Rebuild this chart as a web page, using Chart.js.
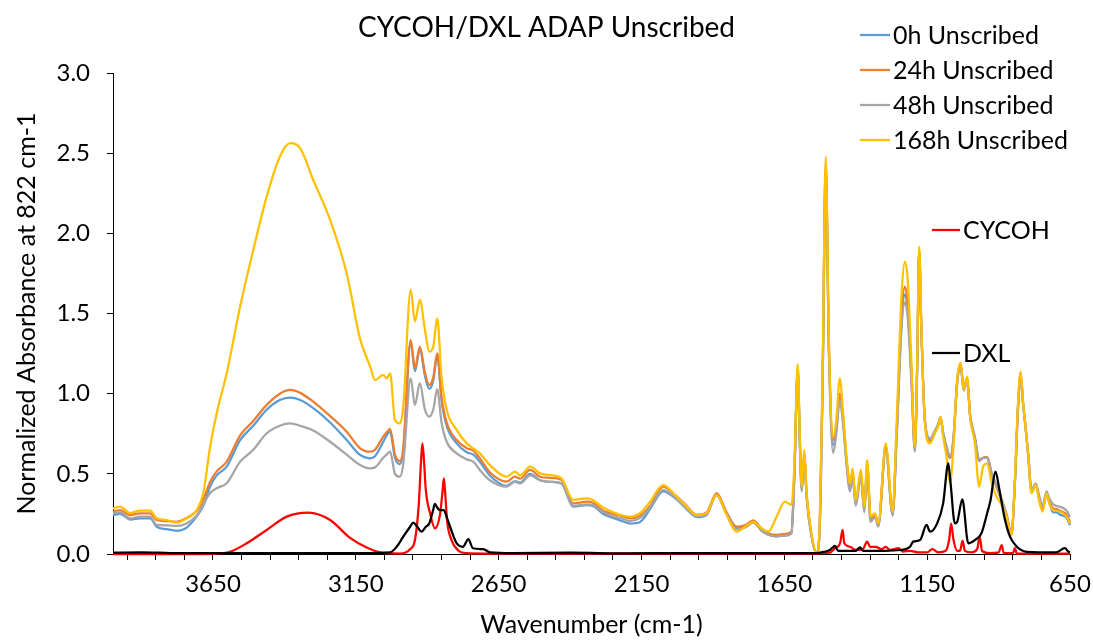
<!DOCTYPE html>
<html>
<head>
<meta charset="utf-8">
<title>CYCOH/DXL ADAP Unscribed</title>
<script src="https://cdn.jsdelivr.net/npm/chart.js@4.4.1/dist/chart.umd.min.js"></script>
<style>
  html, body { margin: 0; padding: 0; background: #ffffff; }
  #wrap { width: 1093px; height: 640px; position: relative; }
</style>
</head>
<body>
<div id="wrap"><canvas id="spectra" width="1093" height="640"></canvas></div>
<script>
// Wavenumber grid (cm-1) shared by the four ADAP samples
const sampleWn = [4000,3975,3940,3905,3870,3847,3812,3777,3742,3707,3684,3660,3637,3602,3555,3509,3462,3416,3380,3345,3299,3240,3182,3135,3100,3083,3054,3042,3030,3013,2996,2984,2958,2943,2926,2908,2893,2879,2865,2850,2832,2797,2762,2739,2716,2681,2622,2593,2575,2540,2505,2470,2430,2389,2342,2320,2284,2249,2225,2190,2155,2120,2074,2027,1992,1957,1922,1887,1852,1817,1787,1759,1730,1706,1677,1648,1625,1615,1603,1596,1589,1580,1572,1555,1537,1526,1516,1505,1494,1479,1468,1456,1444,1432,1420,1411,1400,1382,1370,1360,1348,1333,1321,1295,1271,1257,1240,1228,1218,1205,1193,1185,1178,1170,1158,1140,1123,1112,1103,1094,1082,1070,1058,1045,1033,1022,1010,1000,983,968,954,940,924,907,889,872,855,843,832,823,814,805,796,785,770,756,746,732,723,709,698,685,662,650];

// Normalized absorbance, unscribed ADAP after 0, 24, 48 and 168 h
const abs0h = [0.243,0.25,0.215,0.222,0.222,0.17,0.155,0.145,0.165,0.235,0.3,0.42,0.49,0.545,0.71,0.8,0.9,0.96,0.975,0.96,0.91,0.82,0.711,0.618,0.597,0.61,0.7,0.74,0.763,0.6,0.56,0.64,1.32,1.14,1.28,1.11,1.03,1.08,1.24,0.96,0.8,0.69,0.635,0.62,0.575,0.49,0.425,0.455,0.445,0.5,0.46,0.45,0.44,0.295,0.305,0.3,0.25,0.225,0.21,0.19,0.2,0.28,0.39,0.34,0.28,0.23,0.245,0.37,0.25,0.16,0.17,0.2,0.15,0.12,0.11,0.115,0.13,0.49,1.15,0.72,0.4,0.62,0.36,0.115,0.005,0.175,1.08,2.42,1.28,0.68,0.78,0.99,0.83,0.57,0.41,0.5,0.31,0.49,0.27,0.55,0.21,0.24,0.18,0.66,0.245,0.73,1.44,1.62,1.52,1.1,0.645,1.16,1.89,1.38,0.83,0.71,0.76,0.8,0.85,0.75,0.66,0.6,0.71,1.07,1.18,1.02,1.09,0.87,0.72,0.58,0.6,0.6,0.5,0.42,0.33,0.24,0.12,0.44,0.91,1.11,0.93,0.78,0.61,0.39,0.43,0.33,0.28,0.38,0.33,0.26,0.26,0.245,0.225,0.18];
const abs24h = [0.264,0.274,0.243,0.254,0.254,0.212,0.205,0.201,0.225,0.27,0.34,0.45,0.515,0.576,0.74,0.83,0.93,1.0,1.023,1.005,0.95,0.86,0.763,0.659,0.638,0.65,0.732,0.76,0.78,0.62,0.58,0.66,1.335,1.158,1.293,1.13,1.054,1.1,1.252,0.98,0.82,0.711,0.66,0.645,0.597,0.51,0.451,0.482,0.47,0.524,0.482,0.475,0.462,0.316,0.326,0.32,0.27,0.25,0.24,0.222,0.24,0.3,0.42,0.36,0.3,0.245,0.26,0.38,0.26,0.17,0.18,0.21,0.16,0.13,0.12,0.125,0.14,0.5,1.16,0.73,0.41,0.63,0.37,0.12,0.005,0.18,1.1,2.44,1.3,0.711,0.8,1.0,0.84,0.58,0.42,0.51,0.32,0.5,0.28,0.56,0.22,0.25,0.19,0.67,0.25,0.75,1.48,1.668,1.56,1.12,0.65,1.17,1.9,1.39,0.83,0.7,0.76,0.8,0.85,0.75,0.66,0.6,0.72,1.08,1.19,1.03,1.1,0.87,0.72,0.585,0.6,0.605,0.5,0.42,0.33,0.24,0.12,0.45,0.93,1.13,0.94,0.78,0.61,0.39,0.43,0.33,0.28,0.38,0.33,0.285,0.28,0.27,0.245,0.2];
const abs48h = [0.254,0.26,0.222,0.233,0.233,0.181,0.178,0.175,0.19,0.24,0.31,0.38,0.41,0.441,0.576,0.65,0.753,0.8,0.815,0.8,0.77,0.7,0.62,0.555,0.534,0.54,0.6,0.62,0.638,0.5,0.482,0.56,1.096,0.929,1.065,0.9,0.857,0.9,1.028,0.82,0.7,0.628,0.59,0.576,0.524,0.46,0.42,0.45,0.44,0.49,0.46,0.45,0.44,0.3,0.31,0.305,0.26,0.235,0.225,0.205,0.225,0.29,0.4,0.345,0.285,0.235,0.25,0.365,0.25,0.155,0.165,0.195,0.145,0.12,0.11,0.115,0.13,0.47,1.14,0.7,0.39,0.61,0.35,0.11,0.005,0.17,1.05,2.38,1.25,0.63,0.75,0.96,0.8,0.55,0.39,0.48,0.3,0.48,0.26,0.53,0.2,0.23,0.17,0.65,0.24,0.72,1.4,1.57,1.47,1.07,0.638,1.15,1.88,1.38,0.84,0.72,0.77,0.81,0.85,0.76,0.67,0.61,0.72,1.06,1.17,1.02,1.08,0.87,0.73,0.59,0.6,0.6,0.5,0.43,0.34,0.25,0.125,0.44,0.9,1.1,0.93,0.78,0.62,0.4,0.44,0.35,0.3,0.39,0.35,0.31,0.3,0.295,0.27,0.23];
const abs168h = [0.285,0.295,0.255,0.27,0.27,0.223,0.212,0.195,0.223,0.274,0.379,0.669,0.878,1.127,1.543,1.896,2.229,2.478,2.562,2.531,2.333,2.084,1.751,1.34,1.17,1.085,1.117,1.096,1.127,0.836,0.815,0.919,1.647,1.45,1.585,1.397,1.262,1.293,1.47,1.106,0.9,0.774,0.69,0.659,0.628,0.555,0.482,0.513,0.49,0.545,0.503,0.493,0.472,0.337,0.347,0.337,0.29,0.26,0.245,0.233,0.254,0.326,0.43,0.357,0.295,0.243,0.254,0.368,0.243,0.139,0.17,0.201,0.16,0.139,0.233,0.326,0.306,0.55,1.185,0.75,0.42,0.649,0.379,0.129,0.005,0.19,1.127,2.478,1.335,0.732,0.836,1.096,0.878,0.607,0.441,0.534,0.337,0.524,0.295,0.586,0.233,0.254,0.191,0.69,0.264,0.815,1.605,1.823,1.709,1.19,0.669,1.19,1.917,1.397,0.815,0.69,0.753,0.794,0.857,0.732,0.607,0.441,0.669,1.085,1.19,1.023,1.106,0.857,0.69,0.42,0.545,0.566,0.441,0.357,0.306,0.233,0.118,0.462,0.94,1.137,0.94,0.774,0.607,0.379,0.43,0.316,0.264,0.379,0.316,0.274,0.27,0.264,0.233,0.19];

// Reference spectrum: CYCOH
const cycohWn = [4000,3700,3637,3590,3532,3462,3392,3316,3240,3170,3112,3065,2996,2960,2943,2930,2921,2917,2912,2905,2890,2873,2855,2846,2842,2838,2830,2815,2790,2762,2700,1550,1490,1473,1455,1446,1440,1420,1400,1375,1360,1350,1330,1310,1295,1280,1250,1235,1210,1180,1150,1132,1110,1085,1073,1066,1058,1045,1035,1026,1018,995,975,966,958,930,900,889,882,850,843,836,650];
const cycohAbs = [0,0,0.003,0.014,0.067,0.15,0.233,0.258,0.212,0.1,0.04,0.01,0.003,0.03,0.087,0.3,0.6,0.69,0.6,0.4,0.254,0.16,0.25,0.4,0.472,0.4,0.2,0.087,0.02,0.005,0.003,0.003,0.008,0.036,0.067,0.15,0.067,0.045,0.025,0.03,0.077,0.045,0.045,0.03,0.045,0.025,0.036,0.015,0.02,0.01,0.01,0.03,0.01,0.02,0.09,0.19,0.09,0.02,0.02,0.083,0.02,0.01,0.03,0.108,0.02,0.005,0.01,0.056,0.005,0.005,0.036,0.002,0.002];

// Reference spectrum: DXL
const dxlWn = [4000,3900,3800,3700,3300,3100,3030,3007,2984,2960,2949,2935,2920,2905,2893,2880,2873,2865,2856,2842,2830,2820,2797,2775,2756,2740,2704,2680,2600,2400,2200,2000,1800,1600,1540,1510,1490,1473,1462,1400,1385,1375,1300,1245,1210,1199,1175,1152,1140,1115,1094,1076,1068,1053,1045,1027,1006,983,960,940,928,911,897,880,860,836,802,700,668,655,650];
const dxlAbs = [0.008,0.01,0.006,0.005,0.005,0.005,0.01,0.045,0.108,0.17,0.196,0.17,0.139,0.17,0.19,0.27,0.312,0.29,0.274,0.274,0.22,0.17,0.067,0.045,0.092,0.036,0.03,0.01,0.005,0.008,0.004,0.006,0.005,0.005,0.005,0.014,0.025,0.05,0.02,0.02,0.042,0.02,0.02,0.025,0.045,0.077,0.087,0.181,0.139,0.191,0.316,0.566,0.441,0.191,0.2,0.341,0.067,0.087,0.129,0.254,0.337,0.513,0.399,0.233,0.108,0.045,0.014,0.01,0.036,0.014,0.012];

// Axis ticks
const xMajorTicks = [3650, 3150, 2650, 2150, 1650, 1150, 650];
const xMinorStep = 100;
const yTicks = [0, 0.5, 1.0, 1.5, 2.0, 2.5, 3.0];

const FONT = 'Lato, "Open Sans", sans-serif';
const INK = '#000000';

function pts(wn, ys) { return wn.map((w, i) => ({ x: w, y: ys[i] })); }

function series(label, wn, ys, color, order) {
  return {
    label: label,
    data: pts(wn, ys),
    borderColor: color,
    backgroundColor: color,
    borderWidth: 2.25,
    pointRadius: 0,
    cubicInterpolationMode: 'monotone',
    fill: false,
    clip: 4,
    order: order
  };
}

// Key drawn in two groups: samples at top right, references beside the fingerprint peaks
const seriesKey = {
  id: 'seriesKey',
  afterDraw(chart, args, opts) {
    const ctx = chart.ctx;
    ctx.save();
    ctx.font = opts.font;
    ctx.textBaseline = 'middle';
    ctx.textAlign = 'left';
    opts.items.forEach(item => {
      const ds = chart.data.datasets[item.index];
      ctx.strokeStyle = ds.borderColor;
      ctx.lineWidth = 2.25;
      ctx.beginPath();
      ctx.moveTo(item.x, item.y);
      ctx.lineTo(item.x + item.len, item.y);
      ctx.stroke();
      ctx.fillStyle = INK;
      ctx.fillText(ds.label, item.x + item.len + 3, item.y + 1);
    });
    ctx.restore();
  }
};

const ctx = document.getElementById('spectra');
new Chart(ctx, {
  type: 'line',
  data: {
    datasets: [
      series('0h Unscribed', sampleWn, abs0h, '#5B9BD5', 6),
      series('24h Unscribed', sampleWn, abs24h, '#ED7D31', 5),
      series('48h Unscribed', sampleWn, abs48h, '#A5A5A5', 4),
      series('168h Unscribed', sampleWn, abs168h, '#FFC000', 3),
      series('CYCOH', cycohWn, cycohAbs, '#FF0000', 2),
      series('DXL', dxlWn, dxlAbs, '#000000', 1)
    ]
  },
  plugins: [seriesKey],
  options: {
    responsive: false,
    animation: false,
    devicePixelRatio: 1,
    // equal side padding keeps the title centred on the whole canvas
    layout: { padding: { left: 23, right: 23, top: 0, bottom: 0 } },
    plugins: {
      legend: { display: false },
      tooltip: { enabled: false },
      title: {
        display: true,
        text: 'CYCOH/DXL ADAP Unscribed',
        color: INK,
        font: { family: FONT, size: 28, weight: 'normal', lineHeight: 1.2 },
        padding: { top: 11, bottom: 28.4 }
      },
      seriesKey: {
        font: '25px ' + FONT,
        items: [
          { index: 0, x: 860, y: 35, len: 30 },
          { index: 1, x: 860, y: 70, len: 30 },
          { index: 2, x: 860, y: 105, len: 30 },
          { index: 3, x: 860, y: 140, len: 30 },
          { index: 4, x: 932, y: 230, len: 28 },
          { index: 5, x: 932, y: 353, len: 28 }
        ]
      }
    },
    scales: {
      x: {
        type: 'linear',
        reverse: true,
        min: 650,
        max: 4000,
        afterBuildTicks(scale) {
          const ticks = [];
          for (let v = 650; v < 4000; v += xMinorStep) ticks.push({ value: v });
          scale.ticks = ticks;
        },
        afterFit(scale) { scale.height = 86; },
        ticks: {
          autoSkip: false,
          maxRotation: 0,
          minRotation: 0,
          padding: 10,
          color: INK,
          font: { family: FONT, size: 24 },
          callback: (v) => xMajorTicks.includes(v) ? String(v) : ''
        },
        grid: { display: true, drawOnChartArea: false, drawTicks: true, tickLength: 6, color: INK, lineWidth: 1 },
        border: { display: true, color: INK, width: 1 },
        title: {
          display: true,
          text: 'Wavenumber (cm-1)',
          color: INK,
          font: { family: FONT, size: 25, lineHeight: 1.2 },
          padding: { top: 0, bottom: 0 }
        }
      },
      y: {
        type: 'linear',
        min: 0,
        max: 3,
        afterBuildTicks(scale) { scale.ticks = yTicks.map(v => ({ value: v })); },
        afterFit(scale) { scale.width = 90; },
        ticks: {
          padding: 17,
          color: INK,
          font: { family: FONT, size: 24 },
          callback: (v) => Number(v).toFixed(1)
        },
        grid: { display: true, drawOnChartArea: false, drawTicks: true, tickLength: 6, color: INK, lineWidth: 1 },
        border: { display: true, color: INK, width: 1 },
        title: {
          display: true,
          text: 'Normalized Absorbance at 822 cm-1',
          color: INK,
          font: { family: FONT, size: 25, lineHeight: 1.2 },
          padding: { top: -11, bottom: 0 }
        }
      }
    }
  }
});
</script>
</body>
</html>
